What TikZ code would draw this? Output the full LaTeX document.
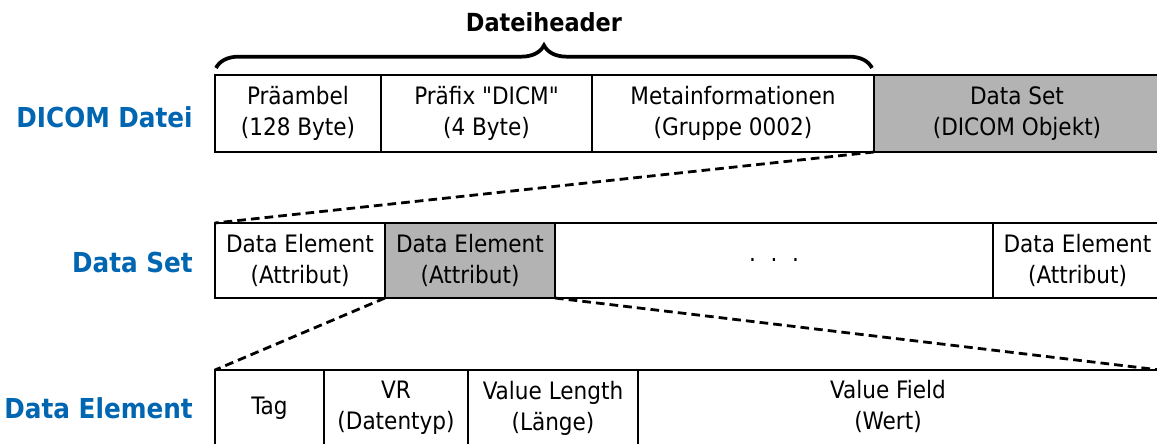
\documentclass[tikz,border=0pt]{standalone}
\usepackage{fontspec}
\setmainfont{DejaVu Sans Condensed}[Ligatures=TeXOff]
\usetikzlibrary{decorations.pathreplacing}
\definecolor{lblue}{RGB}{0,102,178}
\definecolor{boxgray}{RGB}{179,179,179}
\tikzset{
  cell/.style={draw=black, line width=1.6pt, minimum height=#1, inner sep=0pt, outer sep=0pt, align=center, font=\fontsize{18pt}{23.25pt}\selectfont},
  cell/.default=57.75pt,
  graycell/.style={cell, fill=boxgray},
  rowlabel/.style={anchor=east, text=lblue, font=\fontsize{20.6pt}{24pt}\selectfont\bfseries, inner sep=0pt},
  zoomline/.style={line width=2.1pt, dash pattern=on 6.5pt off 3.8pt},
  celltext/.style={align=center, inner sep=0pt, font=\fontsize{18pt}{23.25pt}\selectfont}
}
\begin{document}
\begin{tikzpicture}[x=0.75pt,y=-0.75pt]
\useasboundingbox (0,0) rectangle (1157,443);
\begin{scope}
\clip (0,0) rectangle (1157,443);
% Row 1
\node[cell, minimum width=124.5pt, anchor=north west] (pre) at (215,75) {Präambel\\(128 Byte)};
\node[cell, minimum width=158.25pt, anchor=north west] (pref) at (381,75) {Präfix "DICM"\\(4 Byte)};
\node[cell, minimum width=211.5pt, anchor=north west] (meta) at (592,75) {Metainformationen\\(Gruppe 0002)};
\node[graycell, minimum width=214.5pt, anchor=north west] (ds) at (874,75) {Data Set\\(DICOM Objekt)};
% Row 2
\node[cell=56.25pt, minimum width=127.5pt, anchor=north west] (de1) at (215,223) {Data Element\\(Attribut)};
\node[graycell, cell=56.25pt, minimum width=127.5pt, anchor=north west] (de2) at (385,223) {Data Element\\(Attribut)};
\node[cell=56.25pt, minimum width=328.5pt, anchor=north west] (dots) at (555,223) {.\hspace{11pt}.\hspace{11pt}.};
\node[cell=56.25pt, minimum width=126.75pt, anchor=north west] (den) at (993,223) {Data Element\\(Attribut)};
% Row 3
\node[cell=57pt, minimum width=81.75pt, anchor=north west] (tag) at (215,370) {Tag};
\node[cell=57pt, minimum width=108pt, anchor=north west] (vr) at (324,370) {VR\\(Datentyp)};
\node[cell=57pt, minimum width=127.5pt, anchor=north west] (vl) at (468,370) {Value Length\\(Länge)};
\node[cell=57pt, minimum width=391.5pt, anchor=north west] (vf) at (638,370) {};
\node[celltext] (vft) at (888,406) {Value Field\\(Wert)};
% zoom lines
\draw[zoomline] (ds.south west) -- (de1.north west);
\draw[zoomline] (de2.south west) -- (tag.north west);
\draw[zoomline] (de2.south east) -- (vf.north east);
\end{scope}
% labels
\node[rowlabel] (l1) at (193,117) {DICOM Datei};
\node[rowlabel] (l2) at (193,262) {Data Set};
\node[rowlabel] (l3) at (193,408) {Data Element};
% brace
\coordinate (bs) at (216,68);
\coordinate (be) at (872,68);
\draw[decorate, decoration={brace, amplitude=17pt}, line width=2.8pt] (bs) -- (be);
\node[font=\fontsize{18.7pt}{22pt}\selectfont\bfseries, inner sep=0pt] (hdr) at (544,22) {Dateiheader};
\end{tikzpicture}
\end{document}
